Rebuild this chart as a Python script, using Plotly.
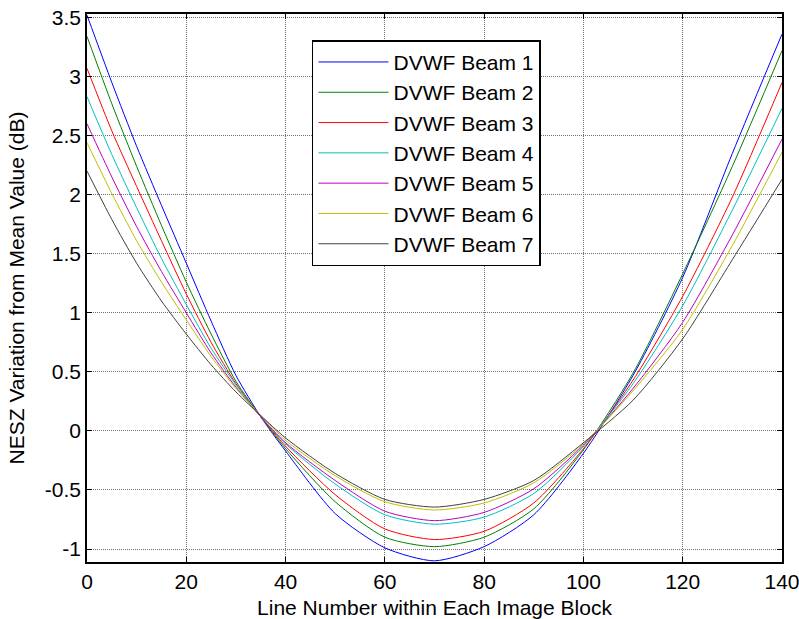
import plotly.graph_objects as go

# Line number positions where the curves were read
line_number = [0, 5, 10, 15, 20, 25, 30, 35, 40, 50, 60, 70, 80, 90, 100, 110, 120, 130, 140]

beam_1 = [3.52, 2.95, 2.41, 1.91, 1.42, 0.93, 0.47, 0.12, -0.17, -0.70, -0.99, -1.10, -0.98, -0.71, -0.19, 0.47, 1.30, 2.35, 3.36]
beam_2 = [3.34, 2.77, 2.24, 1.74, 1.26, 0.82, 0.42, 0.12, -0.15, -0.60, -0.90, -0.98, -0.90, -0.66, -0.16, 0.49, 1.33, 2.24, 3.22]
beam_3 = [3.07, 2.54, 2.07, 1.61, 1.16, 0.75, 0.40, 0.12, -0.13, -0.54, -0.83, -0.92, -0.85, -0.61, -0.15, 0.43, 1.14, 1.98, 2.95]
beam_4 = [2.83, 2.34, 1.89, 1.46, 1.07, 0.70, 0.39, 0.12, -0.11, -0.45, -0.71, -0.79, -0.73, -0.53, -0.13, 0.40, 1.06, 1.87, 2.73]
beam_5 = [2.60, 2.15, 1.73, 1.35, 1.00, 0.66, 0.37, 0.12, -0.10, -0.42, -0.68, -0.76, -0.69, -0.49, -0.12, 0.36, 0.92, 1.66, 2.47]
beam_6 = [2.44, 2.01, 1.61, 1.26, 0.94, 0.63, 0.36, 0.13, -0.08, -0.38, -0.60, -0.67, -0.61, -0.44, -0.11, 0.34, 0.86, 1.57, 2.36]
beam_7 = [2.20, 1.79, 1.42, 1.10, 0.82, 0.56, 0.33, 0.13, -0.06, -0.36, -0.58, -0.645, -0.58, -0.42, -0.10, 0.26, 0.78, 1.45, 2.13]

series_names = ["DVWF Beam 1", "DVWF Beam 2", "DVWF Beam 3", "DVWF Beam 4",
                "DVWF Beam 5", "DVWF Beam 6", "DVWF Beam 7"]
series_values = [beam_1, beam_2, beam_3, beam_4, beam_5, beam_6, beam_7]
colors = ["#0000FF", "#008000", "#FF0000", "#00BFBF", "#BF00BF", "#BFBF00", "#404040"]

x_ticks = [0, 20, 40, 60, 80, 100, 120, 140]
y_ticks = [-1, -0.5, 0, 0.5, 1, 1.5, 2, 2.5, 3, 3.5]
y_tick_text = ["-1", "-0.5", "0", "0.5", "1", "1.5", "2", "2.5", "3", "3.5"]

FONT = "Liberation Sans, Arial, Helvetica, sans-serif"
FS = 21

fig = go.Figure()
for name, vals, col in zip(series_names, series_values, colors):
    fig.add_trace(go.Scatter(
        x=line_number, y=vals, mode="lines", name=name,
        line=dict(color=col, width=1, shape="spline", smoothing=0.7),
    ))

axis_common = dict(
    showline=True, linecolor="black", linewidth=1.5, mirror="ticks",
    ticks="inside", ticklen=5, tickwidth=1, tickcolor="black",
    showgrid=True, gridcolor="#707070", gridwidth=1, griddash="1px,1px",
    zeroline=False, automargin=False, ticklabeloverflow="allow",
    tickfont=dict(family=FONT, size=FS, color="black"),
)

fig.update_xaxes(
    range=[0, 140], tickmode="array", tickvals=x_ticks,
    title=dict(text="Line Number within Each Image Block",
               font=dict(family=FONT, size=FS, color="black"), standoff=8),
    **axis_common,
)
fig.update_yaxes(
    range=[-1.11, 3.53], tickmode="array", tickvals=y_ticks, ticktext=y_tick_text,
    title=dict(text="NESZ Variation from Mean Value (dB)",
               font=dict(family=FONT, size=FS, color="black"), standoff=15),
    **axis_common,
)

fig.update_layout(
    width=799, height=619,
    margin=dict(l=87, r=17, t=14, b=57),
    paper_bgcolor="white", plot_bgcolor="white",
    font=dict(family=FONT, size=FS, color="black"),
    legend=dict(
        x=0.3237, y=0.952, xanchor="left", yanchor="top",
        bgcolor="white", bordercolor="black", borderwidth=1.5,
        font=dict(family=FONT, size=FS, color="black"),
        itemwidth=70,
    ),
    showlegend=True,
)

# remove the default page margin so the figure fills the window exactly
fig.write_html("out.html", config={"displayModeBar": False},
               post_script="document.body.style.margin='0';")
